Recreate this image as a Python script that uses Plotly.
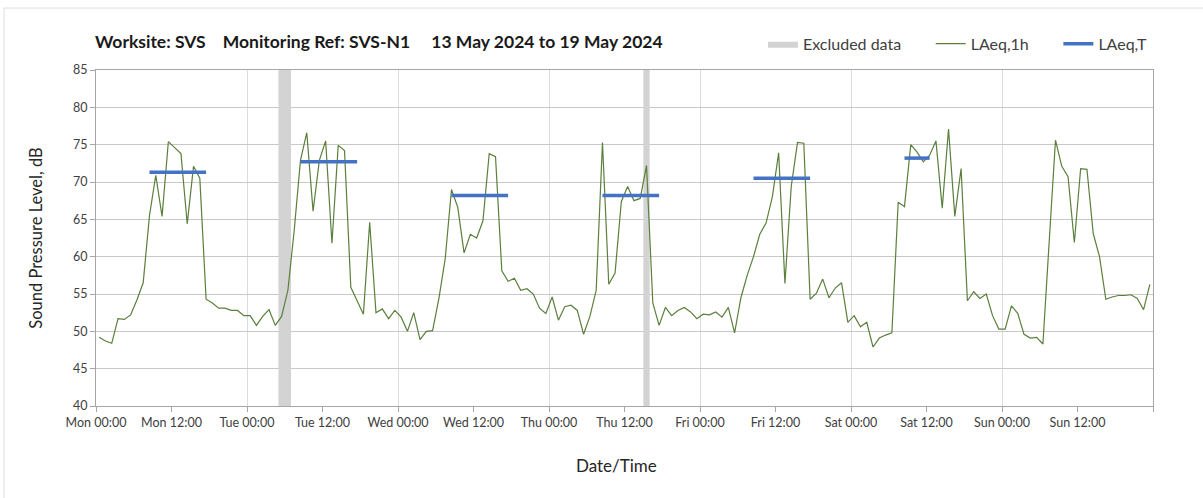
import pandas as pd
import plotly.graph_objects as go

# Hourly LAeq,1h values (dB), Mon 13 May 2024 00:00 -> Sun 19 May 2024 23:00
laeq_1h = [
    49.2, 48.7, 48.4, 51.7, 51.6, 52.2, 54.2, 56.5, 65.5, 70.9, 65.4, 75.4,
    74.6, 73.8, 64.4, 72.1, 70.5, 54.3, 53.8, 53.1, 53.1, 52.8, 52.8, 52.1,
    52.1, 50.8, 52.0, 52.9, 50.8, 52.0, 55.5, 63.5, 72.9, 76.6, 66.1, 72.9,
    75.5, 61.8, 74.9, 74.2, 55.9, 54.1, 52.3, 64.6, 52.5, 53.0, 51.7, 52.8,
    51.9, 50.0, 52.5, 48.9, 50.0, 50.1, 54.4, 59.7, 69.0, 66.6, 60.5, 63.0,
    62.5, 64.8, 73.8, 73.4, 58.1, 56.7, 57.1, 55.5, 55.7, 55.0, 53.1, 52.4,
    54.6, 51.5, 53.3, 53.5, 52.8, 49.6, 52.0, 55.5, 75.3, 56.3, 57.8, 67.4,
    69.4, 67.5, 67.8, 72.2, 53.8, 50.8, 53.2, 52.1, 52.8, 53.2, 52.6, 51.7,
    52.3, 52.2, 52.6, 51.9, 53.2, 49.8, 54.5, 57.5, 60.0, 63.0, 64.5, 68.0,
    73.9, 56.4, 69.4, 75.3, 75.2, 54.3, 55.1, 57.0, 54.5, 55.8, 56.5, 51.2,
    52.1, 50.6, 51.2, 47.9, 49.1, 49.5, 49.8, 67.3, 66.7, 75.0, 74.0, 72.7,
    73.6, 75.5, 66.5, 77.1, 65.4, 71.8, 54.1, 55.3, 54.4, 55.0, 52.1, 50.3,
    50.3, 53.4, 52.4, 49.6, 49.1, 49.2, 48.3, 62.0, 75.6, 72.1, 70.7, 61.9,
    71.8, 71.7, 63.1, 60.0, 54.3, 54.6, 54.8, 54.8, 54.9, 54.4, 52.9, 56.3,
]

# LAeq,T assessment periods
period_start = ["2024-05-13 08:00", "2024-05-14 08:00", "2024-05-15 08:00",
                "2024-05-16 08:00", "2024-05-17 08:00", "2024-05-18 08:00"]
period_end = ["2024-05-13 18:00", "2024-05-14 18:00", "2024-05-15 18:00",
              "2024-05-16 18:00", "2024-05-17 18:00", "2024-05-18 13:00"]
laeq_t = [71.3, 72.7, 68.2, 68.2, 70.5, 73.2]

# Excluded data periods
excl_start = ["2024-05-14 05:00", "2024-05-16 15:00"]
excl_end = ["2024-05-14 07:00", "2024-05-16 16:00"]

# Axis ticks
tick_labels = ["Mon 00:00", "Mon 12:00", "Tue 00:00", "Tue 12:00", "Wed 00:00",
               "Wed 12:00", "Thu 00:00", "Thu 12:00", "Fri 00:00", "Fri 12:00",
               "Sat 00:00", "Sat 12:00", "Sun 00:00", "Sun 12:00", ""]
y_ticks = [40, 45, 50, 55, 60, 65, 70, 75, 80, 85]

start = pd.Timestamp("2024-05-13 00:00")
half = pd.Timedelta(minutes=30)
x_hours = [start + pd.Timedelta(hours=i) + half for i in range(len(laeq_1h))]
tick_vals = [start + pd.Timedelta(hours=12 * i) for i in range(len(tick_labels))]

sp = "\u00a0"
fig = go.Figure()

# excluded bands
ex_x, ex_y = [], []
for s, e in zip(excl_start, excl_end):
    s, e = pd.Timestamp(s), pd.Timestamp(e)
    ex_x += [s, e, e, s, s, None]
    ex_y += [y_ticks[0], y_ticks[0], y_ticks[-1], y_ticks[-1], y_ticks[0], None]
fig.add_trace(go.Scatter(x=ex_x, y=ex_y, mode="lines", fill="toself",
                         fillcolor="#d3d3d3", line=dict(width=0, color="#d3d3d3"),
                         name="Excluded data" + sp * 6, hoverinfo="skip"))

fig.add_trace(go.Scatter(x=x_hours, y=laeq_1h, mode="lines",
                         line=dict(color="#5b7f3c", width=1.2),
                         name="LAeq,1h" + sp * 6))

bx, by = [], []
for s, e, v in zip(period_start, period_end, laeq_t):
    bx += [pd.Timestamp(s) + half, pd.Timestamp(e) - half, None]
    by += [v, v, None]
fig.add_trace(go.Scatter(x=bx, y=by, mode="lines",
                         line=dict(color="#4472c4", width=3.5), name="LAeq,T"))

FONT = "Lato, 'Open Sans', sans-serif"
axis_font = dict(family=FONT, size=12.5, color="#404040")

fig.update_layout(
    width=1203, height=498,
    paper_bgcolor="white", plot_bgcolor="white",
    margin=dict(l=96, r=50, t=70, b=92),
    font=dict(family=FONT, color="#262626"),
    title=dict(
        text="<b>Worksite: SVS" + sp * 4 + "Monitoring Ref: SVS-N1" + sp * 5
             + "13 May 2024 to 19 May 2024</b>",
        x=95 / 1203, xanchor="left", y=1 - 42 / 498, yanchor="middle",
        font=dict(size=17.5, color="#1a1a1a")),
    legend=dict(orientation="h", x=1.0, xanchor="right", y=1.078, yanchor="middle",
                font=dict(size=16, color="#404040"), bgcolor="rgba(0,0,0,0)",
                traceorder="normal"),
    showlegend=True,
    shapes=[
        dict(type="line", xref="paper", yref="paper", x0=-0.087, x1=-0.087,
             y0=1.1845, y1=-0.3, line=dict(color="#dedede", width=1), layer="below"),
        dict(type="line", xref="paper", yref="paper", x0=-0.087, x1=1.1,
             y0=1.1845, y1=1.1845, line=dict(color="#dedede", width=1), layer="below"),
    ],
    annotations=[
        dict(text="Date/Time", xref="paper", yref="paper",
             x=(616 - 96) / 1057, y=(406 - 465) / 336, xanchor="center",
             yanchor="middle", showarrow=False,
             font=dict(family=FONT, size=17, color="#262626")),
    ],
)

fig.update_xaxes(
    range=[tick_vals[0], tick_vals[-1]], tickvals=tick_vals, ticktext=tick_labels,
    tickfont=axis_font, ticks="outside", ticklen=5, tickcolor="#a6a6a6",
    showgrid=False, showline=True, linecolor="#a6a6a6", linewidth=1, mirror=True,
    minor=dict(dtick=86400000, tick0=tick_vals[0], showgrid=True,
               gridcolor="#dcdcdc", gridwidth=1, ticks=""),
    zeroline=False,
)
fig.update_yaxes(
    range=[y_ticks[0], y_ticks[-1]], tickvals=y_ticks, tickfont=axis_font,
    ticks="outside", ticklen=5, tickcolor="#a6a6a6",
    showgrid=True, gridcolor="#c8c8c8", gridwidth=1,
    showline=True, linecolor="#a6a6a6", linewidth=1, mirror=True,
    title=dict(text="Sound Pressure Level, dB", font=dict(size=16.5, color="#262626"),
               standoff=26),
    zeroline=False,
)

fig.write_html("out.html", post_script="document.body.style.margin='0';",
               config={"displayModeBar": False})
